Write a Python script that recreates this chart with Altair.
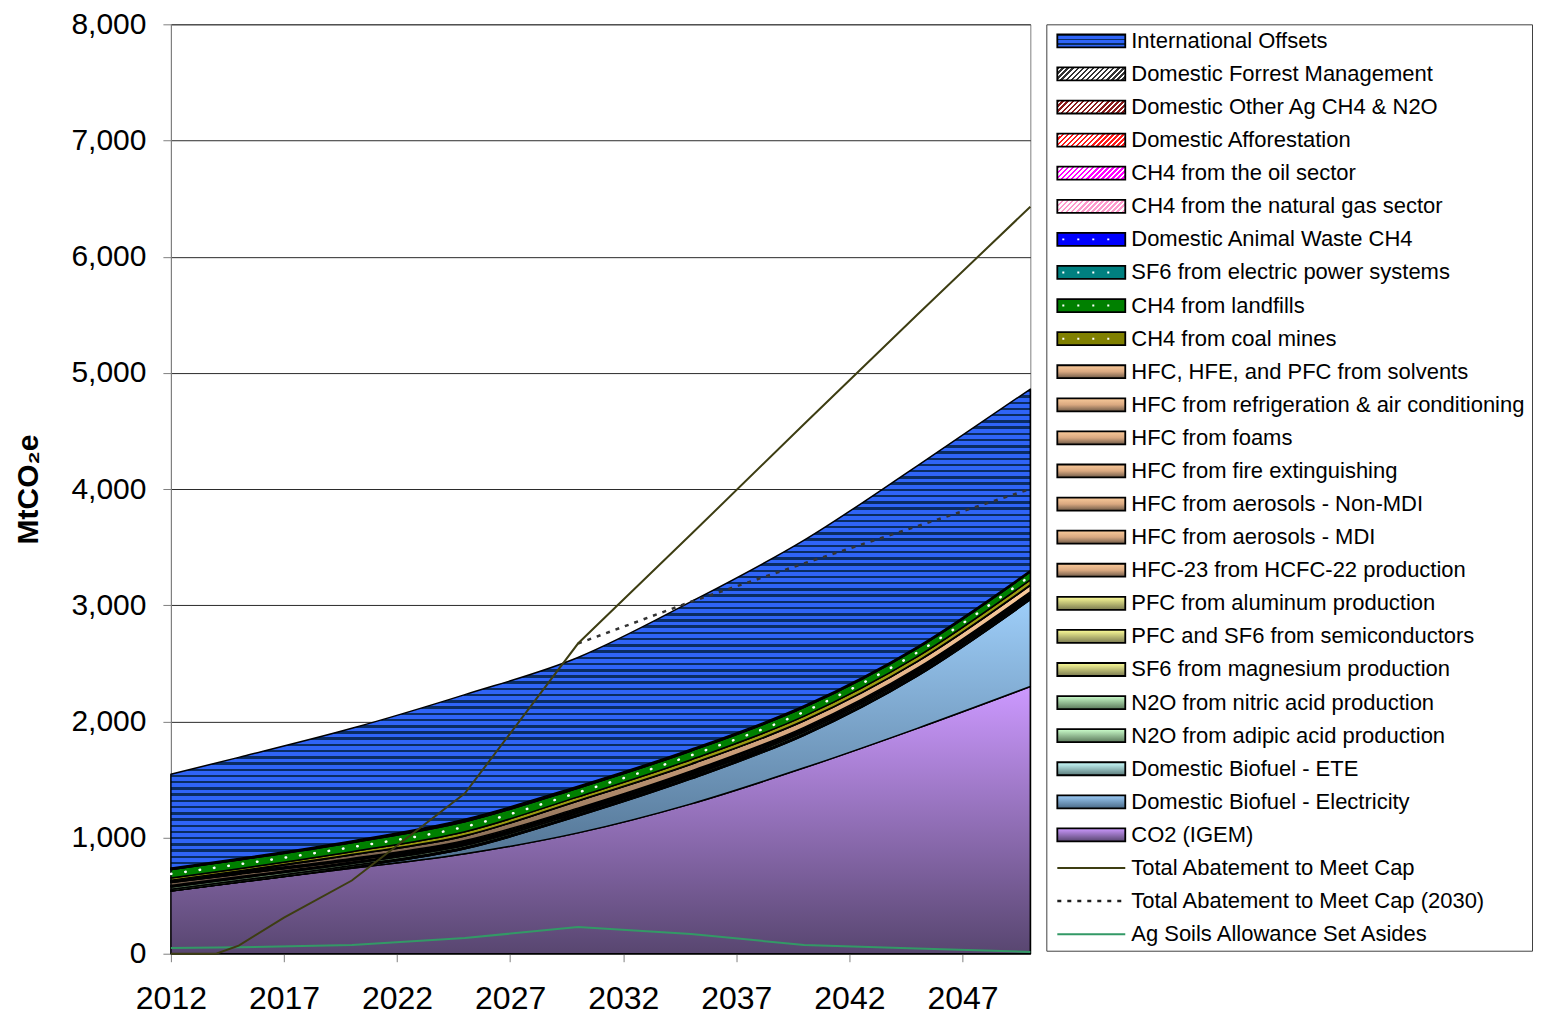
import altair as alt
import pandas as pd

FONT = "Liberation Sans"
PLOT_W, PLOT_H = 860, 930
Y_MAX = 8000

# ---------------- data (MtCO2e) ----------------
years = [2012, 2015, 2020, 2025, 2030, 2035, 2040, 2045, 2050]

# stacked series, bottom to top
co2_igem       = [540, 615, 735, 860, 1040, 1290, 1600, 1940, 2300]
biofuel_elec   = [0, 0, 10, 43, 145, 215, 280, 450, 747]
biofuel_ete    = [0, 0, 0, 2, 4, 4, 4, 4, 4]
n2o_adipic     = [15, 15, 14, 12, 10, 10, 10, 10, 10]
n2o_nitric     = [20, 20, 18, 16, 15, 15, 15, 15, 15]
sf6_magnesium  = [4, 4, 4, 3, 3, 3, 3, 3, 3]
pfc_semis      = [4, 4, 4, 4, 4, 4, 4, 4, 4]
pfc_aluminum   = [5, 5, 4, 4, 4, 4, 4, 4, 4]
hfc23          = [25, 22, 15, 12, 10, 10, 10, 10, 10]
hfc_mdi        = [2, 2, 2, 2, 2, 2, 2, 2, 2]
hfc_nonmdi     = [4, 4, 4, 4, 4, 4, 4, 4, 4]
hfc_fire       = [3, 3, 3, 4, 4, 4, 4, 4, 4]
hfc_foams      = [5, 6, 7, 8, 8, 8, 8, 8, 8]
hfc_refrig     = [4, 10, 30, 40, 62, 58, 56, 56, 56]
hfc_solvents   = [2, 2, 3, 3, 3, 3, 3, 3, 3]
ch4_coal       = [18, 20, 25, 33, 32, 36, 38, 40, 43]
ch4_landfill   = [72, 74, 78, 86, 75, 75, 75, 72, 69]
sf6_electric   = [3, 3, 3, 4, 3, 3, 3, 3, 3]
animal_waste   = [2, 2, 2, 3, 2, 2, 2, 2, 2]
ch4_natgas     = [3, 3, 3, 4, 3, 3, 2, 2, 2]
ch4_oil        = [1, 1, 1, 2, 1, 1, 1, 1, 1]
afforestation  = [1, 1, 2, 3, 3, 2, 2, 2, 2]
other_ag       = [2, 2, 2, 3, 3, 2, 2, 2, 1]
forest_mgmt    = [2, 2, 2, 3, 2, 2, 2, 1, 1]
intl_offsets   = [808, 870, 969, 1072, 1108, 1270, 1426, 1558, 1562]

abate_years = [2012, 2014, 2015, 2017, 2020, 2025, 2030, 2035, 2040, 2045, 2050]
abate_vals  = [0, 0, 70, 310, 630, 1380, 2670, 3610, 4560, 5500, 6430]
abate2030_years = [2030, 2035, 2040, 2045, 2050]
abate2030_vals  = [2670, 3030, 3360, 3680, 4000]
agsoil_years = [2012, 2015, 2020, 2025, 2030, 2035, 2040, 2045, 2050]
agsoil_vals  = [50, 55, 75, 135, 230, 170, 75, 45, 15]

x_ticks = [2012, 2017, 2022, 2027, 2032, 2037, 2042, 2047]
y_ticks = [0, 1000, 2000, 3000, 4000, 5000, 6000, 7000, 8000]

# ---------------- styles ----------------
def vgrad(stops):
    return {"gradient": "linear", "x1": 0, "y1": 0, "x2": 0, "y2": 1,
            "stops": [{"offset": o, "color": c} for o, c in stops]}

def stripes(c1, c2, n, frac=0.5, x2=0.0, y2=1.0):
    st = []
    for i in range(n):
        a = round(i / n, 5)
        b = round((i + frac) / n, 5)
        c = round((i + 1) / n, 5)
        st += [{"offset": a, "color": c1}, {"offset": b, "color": c1},
               {"offset": b, "color": c2}, {"offset": c, "color": c2}]
    return {"gradient": "linear", "x1": 0, "y1": 0, "x2": x2, "y2": y2, "stops": st}

def hatch(c):
    return stripes(c, "#ffffff", 16, 0.5, 1.15, 0.22)

PURPLE = vgrad([(0, "#cc99ff"), (1, "#584670")])
BLUEGRAY = vgrad([(0, "#9ecef9"), (1, "#4a6a88")])
CYAN = vgrad([(0, "#ccffff"), (1, "#5a7a7a")])
GREENL = vgrad([(0, "#ccffcc"), (1, "#5a785a")])
YEL = vgrad([(0, "#ffff99"), (1, "#7a7a50")])
TAN = vgrad([(0, "#fbcb9b"), (0.5, "#d9a880"), (1, "#6e5a48")])
NAVY, BLUE = "#0a2c62", "#2f64f6"

stack_order = [
    ("CO2 (IGEM)", co2_igem, PURPLE),
    ("Domestic Biofuel - Electricity", biofuel_elec, BLUEGRAY),
    ("Domestic Biofuel - ETE", biofuel_ete, CYAN),
    ("N2O from adipic acid production", n2o_adipic, GREENL),
    ("N2O from nitric acid production", n2o_nitric, GREENL),
    ("SF6 from magnesium production", sf6_magnesium, YEL),
    ("PFC and SF6 from semiconductors", pfc_semis, YEL),
    ("PFC from aluminum production", pfc_aluminum, YEL),
    ("HFC-23 from HCFC-22 production", hfc23, TAN),
    ("HFC from aerosols - MDI", hfc_mdi, TAN),
    ("HFC from aerosols - Non-MDI", hfc_nonmdi, TAN),
    ("HFC from fire extinguishing", hfc_fire, TAN),
    ("HFC from foams", hfc_foams, TAN),
    ("HFC from refrigeration & air conditioning", hfc_refrig, TAN),
    ("HFC, HFE, and PFC from solvents", hfc_solvents, TAN),
    ("CH4 from coal mines", ch4_coal, "#9a9a10"),
    ("CH4 from landfills", ch4_landfill, "#008000"),
    ("SF6 from electric power systems", sf6_electric, "#008080"),
    ("Domestic Animal Waste CH4", animal_waste, "#0000ff"),
    ("CH4 from the natural gas sector", ch4_natgas, "#ff99cc"),
    ("CH4 from the oil sector", ch4_oil, "#ff00ff"),
    ("Domestic Afforestation", afforestation, "#ff2020"),
    ("Domestic Other Ag CH4 & N2O", other_ag, "#8b1a1a"),
    ("Domestic Forrest Management", forest_mgmt, "#444444"),
    ("International Offsets", intl_offsets, None),
]

rows = []
cum = [0] * len(years)
domestic = None
for name, vals, _ in stack_order:
    if name == "International Offsets":
        domestic = list(cum)
    for i, yr in enumerate(years):
        rows.append({"series": name, "year": yr, "lo": cum[i], "hi": cum[i] + vals[i]})
    cum = [c + v for c, v in zip(cum, vals)]
stack_df = pd.DataFrame(rows)

bbox_px = (max(cum) - min(domestic)) / Y_MAX * PLOT_H
OFFSETS_FILL = stripes(NAVY, BLUE, max(1, round(bbox_px / 6.2)), 0.4, 0, 1)

# ---------------- main chart ----------------
xs = alt.Scale(domain=[2012, 2050], nice=False, zero=False)
ys = alt.Scale(domain=[0, Y_MAX], nice=False)
X = alt.X("year:Q", scale=xs, axis=alt.Axis(
    values=x_ticks, format="d", title=None, grid=False, labelFontSize=32,
    labelPadding=22, tickSize=8, tickColor="#808080", domainColor="#808080",
    labelColor="black", labelFlush=False))
Y = alt.Y("hi:Q", scale=ys, axis=alt.Axis(
    values=y_ticks, format=",.0f", title="MtCO₂e", titleFontSize=30,
    titleFontWeight="bold", titleColor="black", titlePadding=27,
    labelFontSize=30, labelPadding=17, labelColor="black", tickSize=8,
    tickColor="#808080", domainColor="#808080", grid=True,
    gridColor="#2a2a2a", gridWidth=1, labelFlush=False))

layers = []
for name, vals, fill in stack_order:
    f = OFFSETS_FILL if fill is None else fill
    layers.append(
        alt.Chart(stack_df)
        .transform_filter(alt.FieldEqualPredicate(field="series", equal=name))
        .mark_area(fill=f, stroke="black", strokeWidth=1.5, strokeJoin="round",
                   interpolate="monotone", opacity=1)
        .encode(x=X, y=Y, y2=alt.Y2("lo:Q"))
    )

# white dots on the landfill band
lf = stack_df[stack_df.series == "CH4 from landfills"]
dots_df = pd.DataFrame({"year": lf.year, "hi": (lf.lo + lf.hi) / 2})
layers.append(alt.Chart(dots_df).mark_line(
    color="white", strokeWidth=2.5, strokeDash=[0.5, 14], strokeCap="round",
    interpolate="monotone").encode(x=X, y=Y))

layers.append(alt.Chart(pd.DataFrame({"year": agsoil_years, "hi": agsoil_vals}))
              .mark_line(color="#339966", strokeWidth=2).encode(x=X, y=Y))
layers.append(alt.Chart(pd.DataFrame({"year": abate2030_years, "hi": abate2030_vals}))
              .mark_line(color="#333333", strokeWidth=2.5, strokeDash=[4, 6]).encode(x=X, y=Y))
layers.append(alt.Chart(pd.DataFrame({"year": abate_years, "hi": abate_vals}))
              .mark_line(color="#3d3d12", strokeWidth=2).encode(x=X, y=Y))

main = alt.layer(*layers).properties(
    width=PLOT_W, height=PLOT_H,
    view=alt.ViewBackground(stroke="#808080", strokeWidth=1))

# ---------------- legend ----------------
legend_items = [
    ("International Offsets", "sw", stripes(NAVY, BLUE, 3, 0.35, 0, 1), False),
    ("Domestic Forrest Management", "sw", hatch("#333333"), False),
    ("Domestic Other Ag CH4 & N2O", "sw", hatch("#8b1a1a"), False),
    ("Domestic Afforestation", "sw", hatch("#ff1a1a"), False),
    ("CH4 from the oil sector", "sw", hatch("#ff00ff"), False),
    ("CH4 from the natural gas sector", "sw", hatch("#ff99cc"), False),
    ("Domestic Animal Waste CH4", "sw", "#0000ff", True),
    ("SF6 from electric power systems", "sw", "#008080", True),
    ("CH4 from landfills", "sw", "#008000", True),
    ("CH4 from coal mines", "sw", "#808000", True),
    ("HFC, HFE, and PFC from solvents", "sw", TAN, False),
    ("HFC from refrigeration & air conditioning", "sw", TAN, False),
    ("HFC from foams", "sw", TAN, False),
    ("HFC from fire extinguishing", "sw", TAN, False),
    ("HFC from aerosols - Non-MDI", "sw", TAN, False),
    ("HFC from aerosols - MDI", "sw", TAN, False),
    ("HFC-23 from HCFC-22 production", "sw", TAN, False),
    ("PFC from aluminum production", "sw", YEL, False),
    ("PFC and SF6 from semiconductors", "sw", YEL, False),
    ("SF6 from magnesium production", "sw", YEL, False),
    ("N2O from nitric acid production", "sw", GREENL, False),
    ("N2O from adipic acid production", "sw", GREENL, False),
    ("Domestic Biofuel - ETE", "sw", CYAN, False),
    ("Domestic Biofuel - Electricity", "sw", BLUEGRAY, False),
    ("CO2 (IGEM)", "sw", PURPLE, False),
    ("Total Abatement to Meet Cap", "line", {"color": "#3d3d12", "strokeWidth": 2}, False),
    ("Total Abatement to Meet Cap (2030)", "line", {"color": "#202020", "strokeWidth": 2.5, "strokeDash": [4, 6]}, False),
    ("Ag Soils Allowance Set Asides", "line", {"color": "#339966", "strokeWidth": 2}, False),
]
legend_labels = [it[0] for it in legend_items]
LEG_W, LEG_H = 486, 927
ly = alt.Y("label:N", scale=alt.Scale(type="point", domain=legend_labels, padding=0.5), axis=None)
SW_SHAPE = "M-1,-0.191L1,-0.191L1,0.191L-1,0.191Z"

leg_layers = []
for label, kind, style, dots in legend_items:
    d = pd.DataFrame({"label": [label]})
    if kind == "sw":
        leg_layers.append(alt.Chart(d).mark_point(
            shape=SW_SHAPE, size=68 * 68, filled=True, fill=style, stroke="black",
            strokeWidth=1.8, opacity=1).encode(x=alt.value(45), y=ly))
        if dots:
            leg_layers.append(alt.Chart(d).mark_rule(
                color="white", strokeWidth=2, strokeDash=[2, 13]).encode(
                x=alt.value(16), x2=alt.value(76), y=ly))
    else:
        leg_layers.append(alt.Chart(d).mark_rule(**style).encode(
            x=alt.value(11), x2=alt.value(79), y=ly))

leg_layers.append(alt.Chart(pd.DataFrame({"label": legend_labels})).mark_text(
    align="left", baseline="middle", fontSize=22, color="black").encode(
    x=alt.value(85), y=ly, text="label:N"))

legend = alt.layer(*leg_layers).properties(
    width=LEG_W, height=LEG_H,
    view=alt.ViewBackground(stroke="#404040", strokeWidth=1))

chart = alt.hconcat(main, legend, spacing=16, bounds="flush").properties(
    padding={"left": 5, "top": 0, "right": 1, "bottom": 0}
).configure(font=FONT)

chart.save("out.html", embed_options={"renderer": "svg", "actions": False})
